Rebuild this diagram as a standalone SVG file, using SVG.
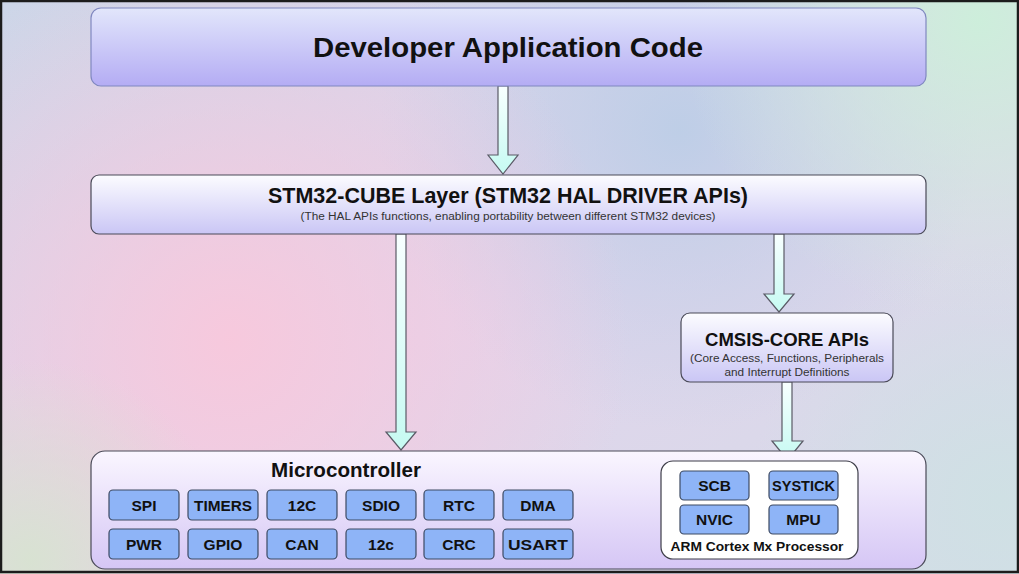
<svg xmlns="http://www.w3.org/2000/svg" width="1019" height="574" viewBox="0 0 1019 574">
<defs>
<linearGradient id="bgBase" x1="0" y1="0" x2="1" y2="1">
<stop offset="0" stop-color="#ccd6e8"/>
<stop offset="0.5" stop-color="#e2d4ec"/>
<stop offset="1" stop-color="#d4dce8"/>
</linearGradient>
<radialGradient id="bgPink" cx="230" cy="340" r="400" gradientUnits="userSpaceOnUse">
<stop offset="0" stop-color="#f8c8dc" stop-opacity="0.95"/>
<stop offset="1" stop-color="#f8c8dc" stop-opacity="0"/>
</radialGradient>
<radialGradient id="bgCyan" cx="980" cy="20" r="300" gradientUnits="userSpaceOnUse">
<stop offset="0" stop-color="#cdeedb" stop-opacity="1"/>
<stop offset="1" stop-color="#cdeedb" stop-opacity="0"/>
</radialGradient>
<radialGradient id="bgBlue" cx="680" cy="130" r="300" gradientUnits="userSpaceOnUse">
<stop offset="0" stop-color="#b8cde6" stop-opacity="0.85"/>
<stop offset="1" stop-color="#b8cde6" stop-opacity="0"/>
</radialGradient>
<radialGradient id="bgGreen" cx="30" cy="560" r="200" gradientUnits="userSpaceOnUse">
<stop offset="0" stop-color="#d8e2d2" stop-opacity="1"/>
<stop offset="1" stop-color="#d8e2d2" stop-opacity="0"/>
</radialGradient>
<radialGradient id="bgRight" cx="1000" cy="500" r="250" gradientUnits="userSpaceOnUse">
<stop offset="0" stop-color="#cfe0e4" stop-opacity="1"/>
<stop offset="1" stop-color="#cfe0e4" stop-opacity="0"/>
</radialGradient>
<linearGradient id="gTop" x1="0" y1="0" x2="0" y2="1">
<stop offset="0" stop-color="#e2e6fb"/>
<stop offset="1" stop-color="#b4acf4"/>
</linearGradient>
<linearGradient id="gLayer" x1="0" y1="0" x2="0" y2="1">
<stop offset="0" stop-color="#fcfcff"/>
<stop offset="1" stop-color="#cac6f5"/>
</linearGradient>
<linearGradient id="gMicro" x1="0" y1="0" x2="0" y2="1">
<stop offset="0" stop-color="#faf6ff"/>
<stop offset="1" stop-color="#d5c6f5"/>
</linearGradient>
<linearGradient id="gArrow" x1="0" y1="0" x2="0" y2="1">
<stop offset="0" stop-color="#f8ffff"/>
<stop offset="1" stop-color="#c6faf2"/>
</linearGradient>
<style>
.ttl{font-family:"Liberation Sans",Arial,sans-serif;font-weight:bold;fill:#111;text-anchor:middle}
.sub{font-family:"Liberation Sans",Arial,sans-serif;fill:#333;text-anchor:middle}
.chip rect{fill:#8eb4f7;stroke:#3d4a63;stroke-width:1.2}
.chip text{font-family:"Liberation Sans",Arial,sans-serif;font-weight:bold;font-size:15.5px;fill:#111;text-anchor:middle}
.arrow{fill:url(#gArrow);stroke:#5a5a66;stroke-width:1.2;stroke-linejoin:miter}
</style>
</defs>
<rect x="0" y="0" width="1019" height="574" fill="url(#bgBase)"/>
<rect x="0" y="0" width="1019" height="574" fill="url(#bgBlue)"/>
<rect x="0" y="0" width="1019" height="574" fill="url(#bgPink)"/>
<rect x="0" y="0" width="1019" height="574" fill="url(#bgCyan)"/>
<rect x="0" y="0" width="1019" height="574" fill="url(#bgGreen)"/>
<rect x="0" y="0" width="1019" height="574" fill="url(#bgRight)"/>

<g id="connectors">
<polygon class="arrow" points="498,86 508,86 508,155 518,155 503,174 488,155 498,155"/>
<polygon class="arrow" points="396,234 406,234 406,432 416,432 401,450 386,432 396,432"/>
<polygon class="arrow" points="774,234 784,234 784,294 794,294 779,312 764,294 774,294"/>
<polygon class="arrow" points="782,382 792,382 792,441 803,441 787.5,460 772,441 782,441"/>
</g>

<g id="dev-app">
<rect x="91" y="8" width="835" height="78" rx="10" fill="url(#gTop)" stroke="#8088c0" stroke-width="1.2"/>
<text class="ttl" x="508" y="57" font-size="28.5" textLength="390" lengthAdjust="spacingAndGlyphs">Developer Application Code</text>
</g>

<g id="stm32-cube">
<rect x="91" y="175" width="835" height="59" rx="8" fill="url(#gLayer)" stroke="#4a4a58" stroke-width="1.2"/>
<text class="ttl" x="508" y="203" font-size="21.5" textLength="480" lengthAdjust="spacingAndGlyphs">STM32-CUBE Layer (STM32 HAL DRIVER APIs)</text>
<text class="sub" x="508" y="220" font-size="10" textLength="415" lengthAdjust="spacingAndGlyphs">(The HAL APIs functions, enabling portability between different STM32 devices)</text>
</g>

<g id="cmsis-core">
<rect x="681" y="313" width="212" height="69" rx="9" fill="url(#gLayer)" stroke="#4a4a58" stroke-width="1.2"/>
<text class="ttl" x="787" y="346" font-size="18" textLength="164" lengthAdjust="spacingAndGlyphs">CMSIS-CORE APIs</text>
<text class="sub" x="787" y="362" font-size="10.5" textLength="194" lengthAdjust="spacingAndGlyphs">(Core Access, Functions, Peripherals</text>
<text class="sub" x="787" y="376" font-size="10.5" textLength="125" lengthAdjust="spacingAndGlyphs">and Interrupt Definitions</text>
</g>

<g id="microcontroller">
<rect x="91" y="451" width="835" height="118" rx="14" fill="url(#gMicro)" stroke="#4a4a58" stroke-width="1.2"/>
<text class="ttl" x="346" y="477" font-size="20" textLength="150" lengthAdjust="spacingAndGlyphs">Microcontroller</text>
<g class="chip" id="chip-spi"><rect x="109" y="490" width="70" height="30" rx="4"/><text x="144" y="510.5">SPI</text></g>
<g class="chip" id="chip-timers"><rect x="188" y="490" width="70" height="30" rx="4"/><text x="223" y="510.5" textLength="58" lengthAdjust="spacingAndGlyphs">TIMERS</text></g>
<g class="chip" id="chip-12c-a"><rect x="267" y="490" width="70" height="30" rx="4"/><text x="302" y="510.5">12C</text></g>
<g class="chip" id="chip-sdio"><rect x="346" y="490" width="70" height="30" rx="4"/><text x="381" y="510.5">SDIO</text></g>
<g class="chip" id="chip-rtc"><rect x="424" y="490" width="70" height="30" rx="4"/><text x="459" y="510.5">RTC</text></g>
<g class="chip" id="chip-dma"><rect x="503" y="490" width="70" height="30" rx="4"/><text x="538" y="510.5">DMA</text></g>
<g class="chip" id="chip-pwr"><rect x="109" y="529" width="70" height="30" rx="4"/><text x="144" y="549.5">PWR</text></g>
<g class="chip" id="chip-gpio"><rect x="188" y="529" width="70" height="30" rx="4"/><text x="223" y="549.5">GPIO</text></g>
<g class="chip" id="chip-can"><rect x="267" y="529" width="70" height="30" rx="4"/><text x="302" y="549.5">CAN</text></g>
<g class="chip" id="chip-12c-b"><rect x="346" y="529" width="70" height="30" rx="4"/><text x="381" y="549.5">12c</text></g>
<g class="chip" id="chip-crc"><rect x="424" y="529" width="70" height="30" rx="4"/><text x="459" y="549.5">CRC</text></g>
<g class="chip" id="chip-usart"><rect x="503" y="529" width="70" height="30" rx="4"/><text x="538" y="549.5" textLength="60" lengthAdjust="spacingAndGlyphs">USART</text></g>
</g>

<g id="arm-cortex">
<rect x="661" y="461" width="197" height="98" rx="12" fill="#ffffff" stroke="#3d3d48" stroke-width="1.2"/>
<g class="chip" id="chip-scb"><rect x="680" y="471" width="69" height="29" rx="4"/><text x="714.5" y="491">SCB</text></g>
<g class="chip" id="chip-systick"><rect x="769" y="471" width="69" height="29" rx="4"/><text x="803.5" y="491" textLength="63" lengthAdjust="spacingAndGlyphs">SYSTICK</text></g>
<g class="chip" id="chip-nvic"><rect x="680" y="505" width="69" height="29" rx="4"/><text x="714.5" y="525">NVIC</text></g>
<g class="chip" id="chip-mpu"><rect x="769" y="505" width="69" height="29" rx="4"/><text x="803.5" y="525">MPU</text></g>
<text class="ttl" x="757" y="551" font-size="13.5" textLength="173" lengthAdjust="spacingAndGlyphs">ARM Cortex Mx Processor</text>
</g>

<rect x="1" y="1" width="1017" height="571" fill="none" stroke="#1c1c1c" stroke-width="2.5"/>
</svg>
